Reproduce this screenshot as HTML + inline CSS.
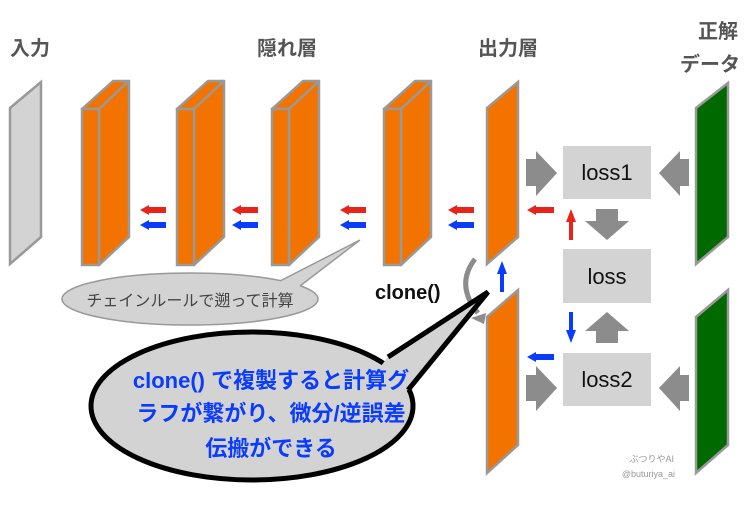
<!DOCTYPE html>
<html><head><meta charset="utf-8"><style>
html,body{margin:0;padding:0;background:#fff;}
svg{display:block;}
text{font-family:"Liberation Sans","Noto Sans CJK JP",sans-serif;}
</style></head><body>
<svg width="754" height="510" viewBox="0 0 754 510" xmlns="http://www.w3.org/2000/svg">
<defs>
<g id="box">
<polygon points="0,28 17,28 47,0 31,0" fill="#f27300" stroke="#999" stroke-width="2.5" stroke-linejoin="round"/>
<polygon points="17,28 47,0 47,156 17,184" fill="#f27300" stroke="#999" stroke-width="2.5" stroke-linejoin="round"/>
<rect x="0" y="28" width="17" height="156" fill="#f27300" stroke="#999" stroke-width="2.5"/>
</g>
<g id="pair">
<polygon points="0,4 9,-1 9,1 26,1 26,7 9,7 9,9" fill="#e8241a"/>
<polygon points="0,19 9,14 9,16 26,16 26,22 9,22 9,24" fill="#0a3cff"/>
</g>
</defs>
<g font-weight="bold" font-size="20" fill="#555">
<text x="10" y="55">入力</text>
<text x="257" y="55">隠れ層</text>
<text x="478" y="55">出力層</text>
<text x="698" y="38">正解</text>
<text x="680" y="71">データ</text>
</g>
<polygon points="10,108 41,82 41,237 10,264" fill="#d3d3d3" stroke="#999" stroke-width="2.5"/>
<use href="#box" x="82" y="81"/>
<use href="#box" x="177" y="81"/>
<use href="#box" x="272" y="81"/>
<use href="#box" x="384" y="81"/>
<polygon points="487,108 518,82 518,237 487,264" fill="#f27300" stroke="#999" stroke-width="2.5"/>
<polygon points="487,317 518,290 518,445 487,473" fill="#f27300" stroke="#999" stroke-width="2.5"/>
<polygon points="696,108 728,83 728,237 696,264" fill="#006a00" stroke="#999" stroke-width="2.5"/>
<polygon points="696,317 728,290 728,445 696,473" fill="#006a00" stroke="#999" stroke-width="2.5"/>
<use href="#pair" x="140" y="206"/>
<use href="#pair" x="232" y="206"/>
<use href="#pair" x="340" y="206"/>
<use href="#pair" x="448" y="206"/>
<polygon points="527,210 536,205 536,207 554,207 554,213 536,213 536,215" fill="#e8241a"/>
<polygon points="527,357 536,352 536,354 554,354 554,360 536,360 536,362" fill="#0a3cff"/>
<polygon points="571,209 566,222 569,222 569,240 573,240 573,222 576,222" fill="#e8241a"/>
<polygon points="571,343 566,330 569,330 569,312 573,312 573,330 576,330" fill="#0a3cff"/>
<polygon points="502,261 497,274 500,274 500,292 504,292 504,274 507,274" fill="#0a3cff"/>
<g fill="#d3d3d3">
<rect x="563" y="146" width="88" height="53"/>
<rect x="563" y="249" width="88" height="54"/>
<rect x="563" y="353" width="88" height="53"/>
</g>
<g font-size="22" fill="#111" text-anchor="middle">
<text x="607" y="180">loss1</text>
<text x="607" y="284">loss</text>
<text x="607" y="387">loss2</text>
</g>
<g fill="#8c8c8c">
<polygon points="526,159 536,159 536,151 557,173 536,196 536,186 526,186"/>
<polygon points="526,375 536,375 536,366 557,388 536,411 536,401 526,401"/>
<polygon points="689,159 680,159 680,151 659,173 680,196 680,186 689,186"/>
<polygon points="689,375 680,375 680,366 659,388 680,411 680,401 689,401"/>
<polygon points="596,209 618,209 618,221 629,221 607,240 585,221 596,221"/>
<polygon points="596,343 618,343 618,331 629,331 607,312 585,331 596,331"/>
</g>
<path d="M475,259 Q455,285 478,313" fill="none" stroke="#8c8c8c" stroke-width="5"/>
<polygon points="471,318 486,313 484,324" fill="#8c8c8c"/>
<text x="375" y="299" font-size="20" font-weight="bold" fill="#111">clone()</text>
<ellipse cx="190" cy="299" rx="128" ry="26" fill="#d3d3d3" stroke="#999" stroke-width="1.5"/>
<polygon points="270,292 280,281 360,240 300,286 290,294" fill="#d3d3d3"/>
<path d="M280,281 L360,240 L300,286" fill="none" stroke="#999" stroke-width="1.5"/>
<text x="190" y="306" font-size="16" fill="#444" text-anchor="middle">チェインルールで遡って計算</text>
<ellipse cx="252" cy="406" rx="161" ry="74" fill="#d3d3d3" stroke="#000" stroke-width="5"/>
<polygon points="370,380 388,357 488,292 408,390 395,395" fill="#d3d3d3"/>
<path d="M388,357 L488,292 L408,390" fill="none" stroke="#000" stroke-width="5" stroke-linejoin="miter"/>
<g font-size="22" font-weight="bold" fill="#0a3cff" text-anchor="middle">
<text x="271" y="388">clone() で複製すると計算グ</text>
<text x="271" y="421">ラフが繋がり、微分/逆誤差</text>
<text x="271" y="456">伝搬ができる</text>
</g>
<g font-size="9" fill="#999" text-anchor="end">
<text x="674" y="462">ぶつりやAI</text>
<text x="675" y="477">@buturiya_ai</text>
</g>
</svg>
</body></html>
